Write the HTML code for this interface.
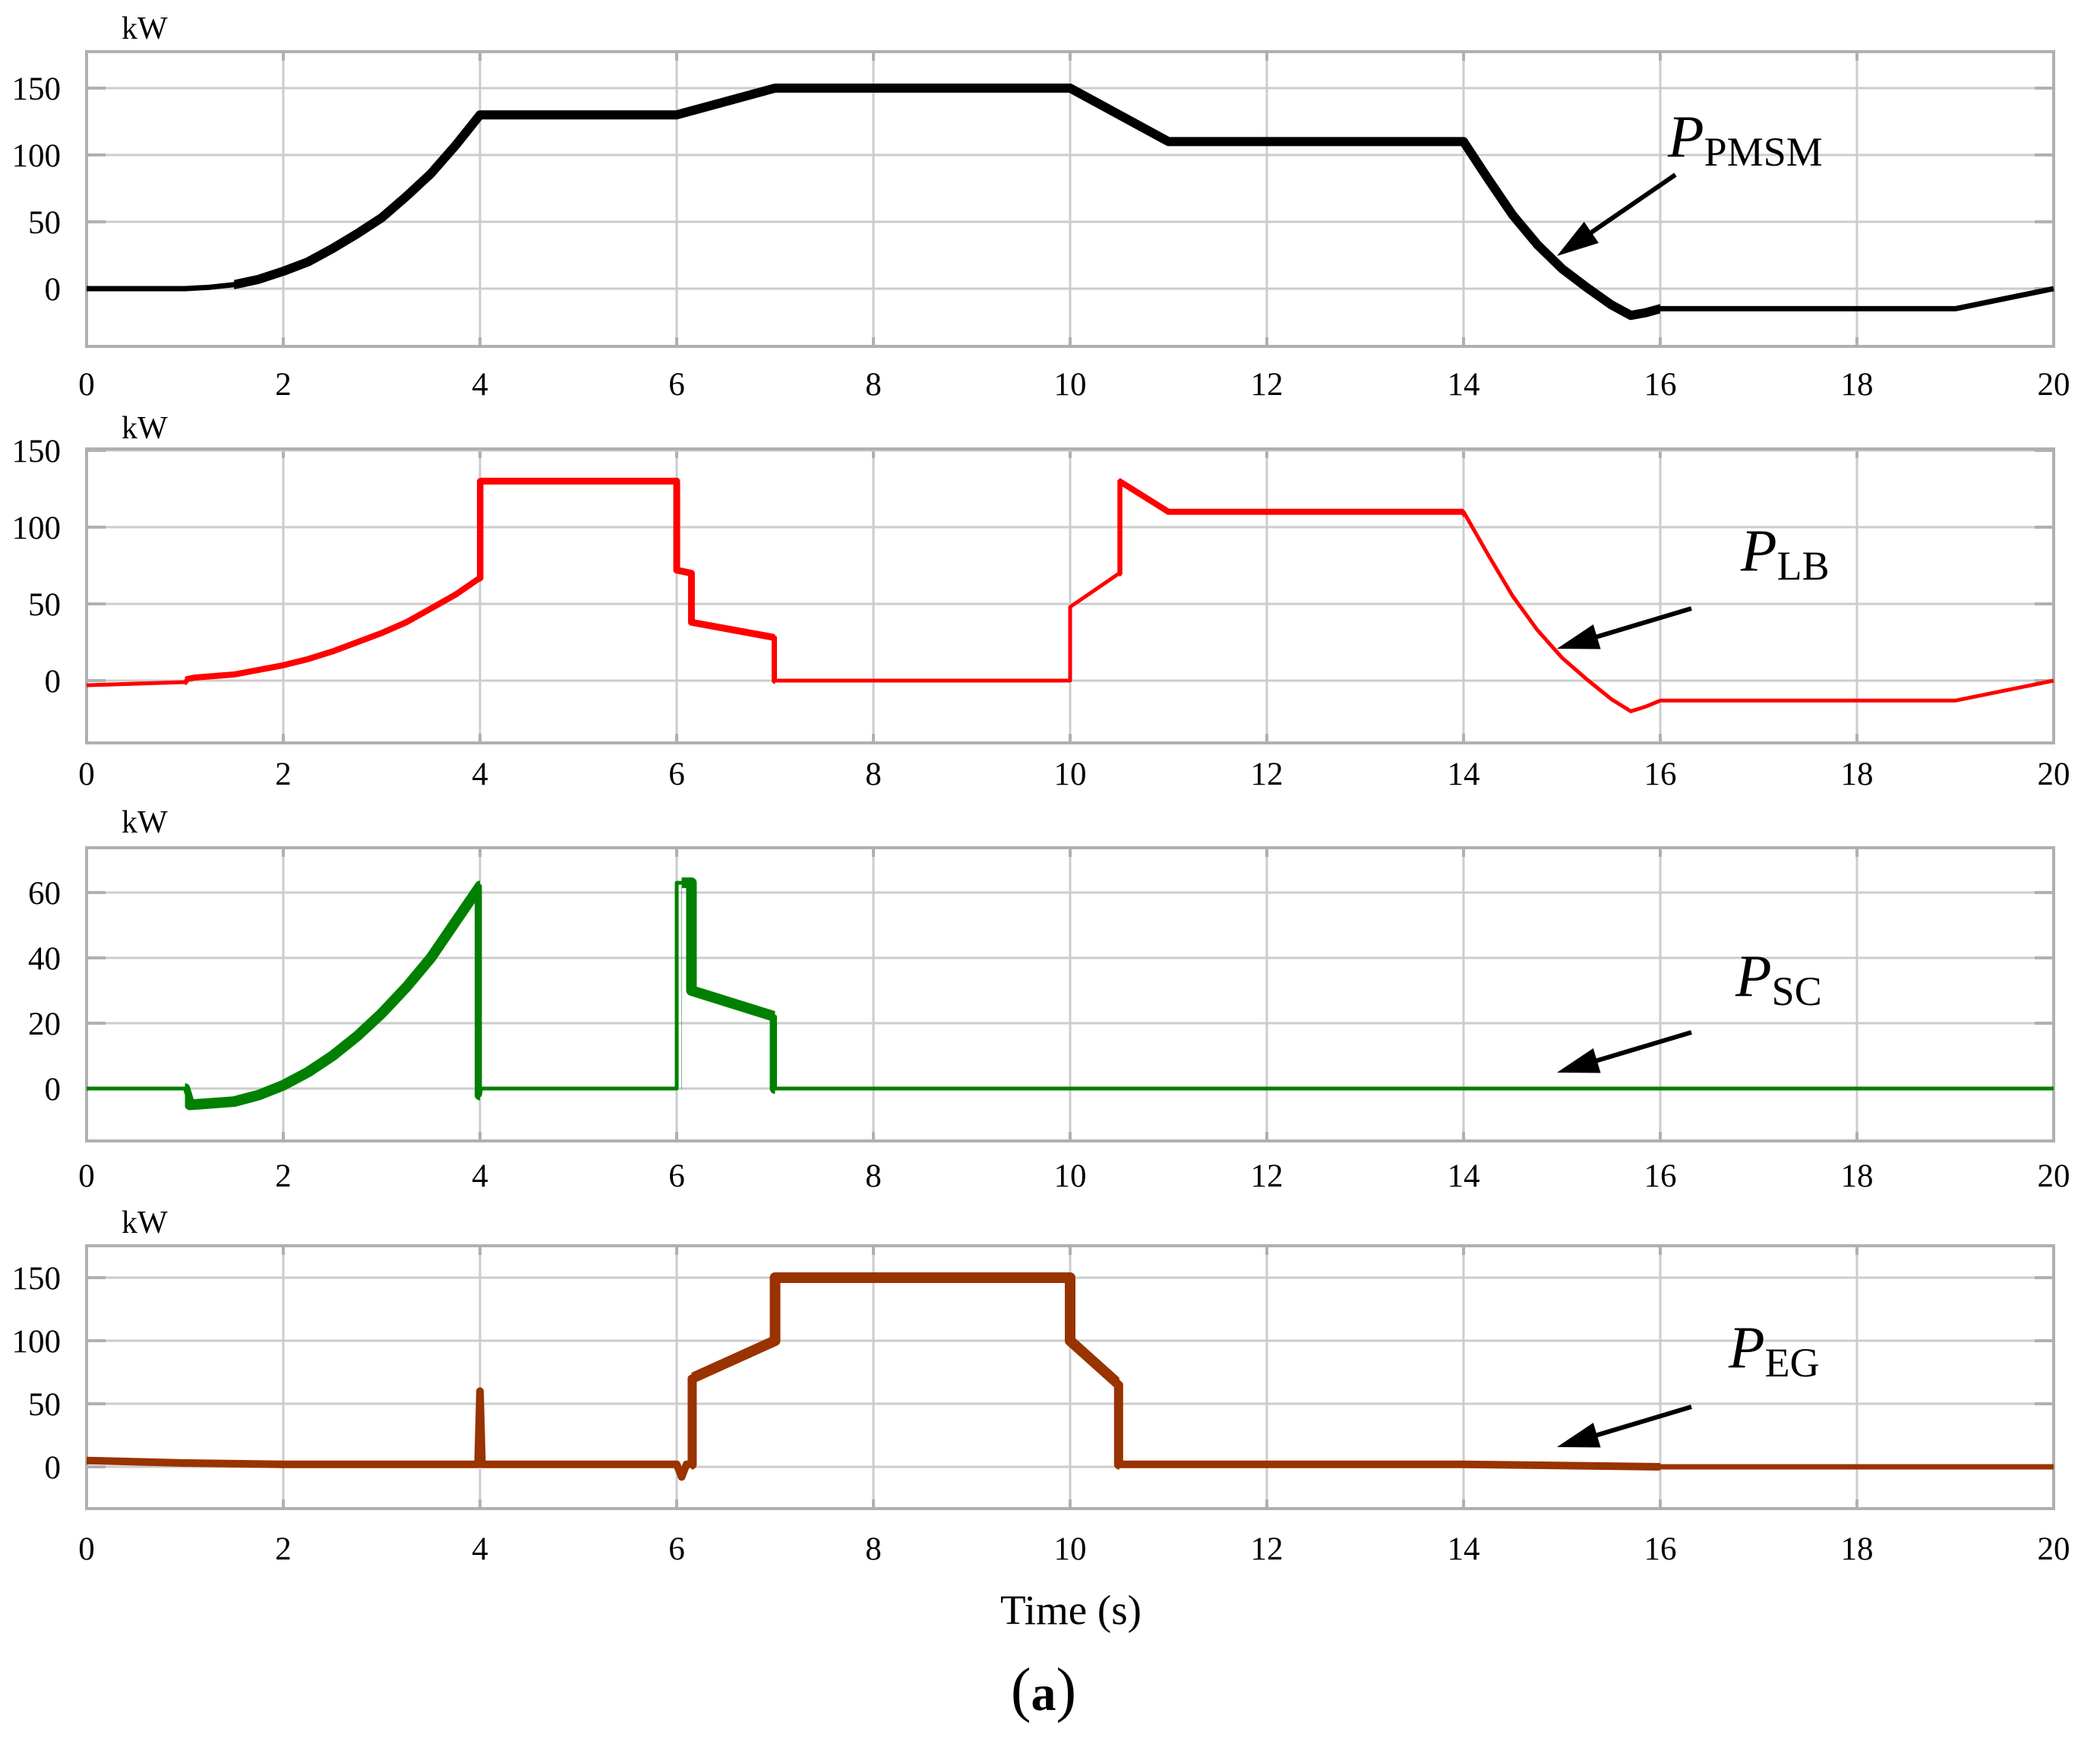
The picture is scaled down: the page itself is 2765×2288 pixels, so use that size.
<!DOCTYPE html>
<html><head><meta charset="utf-8"><style>
html,body{margin:0;padding:0;background:#fff;}
svg{display:block;}
text{font-family:"Liberation Serif",serif;fill:#000;}
</style></head><body>
<svg id="chart" width="2765" height="2288" viewBox="0 0 2765 2288" xmlns="http://www.w3.org/2000/svg"></svg>
<script>
// ---- data ----
const xTicks = [0,2,4,6,8,10,12,14,16,18,20];
const pmsmT = [0,1,1.25,1.5,1.75,2,2.25,2.5,2.75,3,3.25,3.5,3.75,4,6,7,10,11,14,14.25,14.5,14.75,15,15.25,15.5,15.7,15.85,16,19,20];
const pmsmV = [0,0,1,3,7,13,20,30,41,53,69,86,107,130,130,150,150,110,110,82,55,33,15,1,-12,-20,-18,-15,-15,0];
const lbT = [0,1,1.02,1.1,1.5,2,2.25,2.5,2.75,3,3.25,3.5,3.75,4,4,6,6,6.15,6.15,7,7,10,10,10.5,10.5,11,14,14.25,14.5,14.75,15,15.25,15.5,15.7,15.85,16,19,20];
const lbV = [-3,-1,1,2,4,10,14,19,25,31,38,47,56,67,130,130,72,70,38,28,0,0,48,70,130,110,110,82,55,33,15,1,-12,-20,-17,-13,-13,0];
const scT = [0,1,1.05,1.5,1.75,2,2.25,2.5,2.75,3,3.25,3.5,3.75,4,4,4.01,6,6,6.15,6.15,7,7,20];
const scV = [0,0,-5,-4,-2,1,5,10,16,23,31,40,51,62,-2,0,0,63,63,30,22,0,0];
const egT = [0,1,2,3.98,4,4.02,6,6.05,6.1,6.15,6.15,7,7,10,10,10.5,10.5,14,16,20];
const egV = [5,3,2,2,60,2,2,-8,2,2,70,100,150,150,100,65,2,2,0,0];
const yTicks1 = [0,50,100,150];
const yTicks2 = [0,50,100,150];
const yTicks3 = [0,20,40,60];
const yTicks4 = [0,50,100,150];

const NS="http://www.w3.org/2000/svg";
const svg=document.getElementById('chart');
function el(tag,attrs,parent){const e=document.createElementNS(NS,tag);for(const k in attrs)e.setAttribute(k,attrs[k]);(parent||svg).appendChild(e);return e;}
const X0=114,X1=2704;
const xs=t=>X0+(X1-X0)*t/20;

const panels=[
 {name:'pmsm',top:68,bot:456,v0:380,pxPer:88/50,ticks:yTicks1,T:pmsmT,V:pmsmV,color:'#000',w:7,xlab:505,kw:36,
  label:{x:2196,y:206,sub:'PMSM'},arrow:[2206,230,2050,337],bands:[[1.5,16,12]]},
 {name:'lb',top:591,bot:978,v0:896,pxPer:101/50,ticks:yTicks2,T:lbT,V:lbV,color:'#ff0000',w:5,xlab:1018,kw:562,
  label:{x:2292,y:751,sub:'LB'},arrow:[2227,801,2050,854],bands:[[1,4,8],[4,7,9],[10.5,14,8]]},
 {name:'sc',top:1116,bot:1502,v0:1433,pxPer:86/20,ticks:yTicks3,T:scT,V:scV,color:'#008000',w:5,xlab:1547,kw:1081,
  label:{x:2285,y:1311,sub:'SC'},arrow:[2227,1359,2050,1412],bands:[[1,4,14],[6.05,7,14]]},
 {name:'eg',top:1640,bot:1986,v0:1931,pxPer:83/50,ticks:yTicks4,T:egT,V:egV,color:'#993300',w:7,xlab:2038,kw:1608,
  label:{x:2276,y:1800,sub:'EG'},arrow:[2227,1852,2050,1905],bands:[[0,16,10],[6.15,10.5,14]]}
];

panels.forEach(p=>{
 const g=el('g',{});
 
 
 const ys=v=>p.v0-v*p.pxPer;
 xTicks.forEach(t=>{
  const l=el('line',{x1:xs(t),x2:xs(t),y1:p.top,y2:p.bot,stroke:'#cccccc','stroke-width':3},g);
  
  
  el('line',{x1:xs(t),x2:xs(t),y1:p.top,y2:p.top+12,stroke:'#b0b0b0','stroke-width':4},g);
  el('line',{x1:xs(t),x2:xs(t),y1:p.bot-12,y2:p.bot,stroke:'#b0b0b0','stroke-width':4},g);
  const tx=el('text',{x:xs(t),y:p.xlab+15,'font-size':43,'text-anchor':'middle'},g);
  tx.textContent=t;
  
  
 });
 p.ticks.forEach(v=>{
  const y=ys(v);
  const l=el('line',{x1:X0,x2:X1,y1:y,y2:y,stroke:'#cccccc','stroke-width':3},g);
  
  
  el('line',{x1:X0,x2:X0+25,y1:y,y2:y,stroke:'#b0b0b0','stroke-width':4},g);
  el('line',{x1:X1-25,x2:X1,y1:y,y2:y,stroke:'#b0b0b0','stroke-width':4},g);
  const tx=el('text',{x:80,y:y+15,'font-size':43,'text-anchor':'end'},g);
  tx.textContent=v;
  
  
 });
 const fr=el('rect',{x:X0,y:p.top,width:X1-X0,height:p.bot-p.top,fill:'none',stroke:'#b0b0b0','stroke-width':4},g);
 
 
 const kw=el('text',{x:160,y:p.kw+15,'font-size':42},g);
 kw.textContent='kW';
 
 
 const pts=p.T.map((t,i)=>xs(t).toFixed(1)+','+ys(p.V[i]).toFixed(1)).join(' ');
 p.bands.forEach((b,bi)=>{
  const cid='clip-'+p.name+bi;
  const cp=el('clipPath',{id:cid},g);
  el('rect',{x:xs(b[0]),y:0,width:xs(b[1])-xs(b[0]),height:2288},cp);
  const bl=el('polyline',{points:pts,fill:'none',stroke:p.color,'stroke-width':b[2],'stroke-linejoin':'round','clip-path':'url(#'+cid+')'},g);
  
  
 });
 const pl=el('polyline',{points:pts,fill:'none',stroke:p.color,'stroke-width':p.w,'stroke-linejoin':'round'},g);
 
 
 const lt=el('text',{x:p.label.x,y:p.label.y,'font-size':78,'font-style':'italic'},g);
 
 
 lt.appendChild(document.createTextNode('P'));
 const ts=el('tspan',{'font-size':54,'font-style':'normal',dy:12},lt);
 ts.textContent=p.label.sub;
 const a=p.arrow;
 const ar=el('line',{x1:a[0],y1:a[1],x2:a[2]+(a[0]-a[2])*0.18,y2:a[3]+(a[1]-a[3])*0.18,stroke:'#000','stroke-width':6},g);
 
 
 const ang=Math.atan2(a[3]-a[1],a[2]-a[0]);
 const L=55,W=17;
 const bx=a[2]-L*Math.cos(ang),by=a[3]-L*Math.sin(ang);
 const px=-Math.sin(ang)*W,py=Math.cos(ang)*W;
 el('polygon',{points:`${a[2]},${a[3]} ${bx+px},${by+py} ${bx-px},${by-py}`,fill:'#000'},g);
});
</script>
<div style="position:absolute;left:0;top:0;width:2765px;height:2288px;pointer-events:none;">
<div style="position:absolute;left:1210px;top:2088px;width:400px;text-align:center;font:55px 'Liberation Serif',serif;line-height:64px;">Time (s)</div>
<div style="position:absolute;left:1224px;top:2185px;width:300px;text-align:center;font:66px 'Liberation Serif',serif;line-height:80px;"><span style="font-size:80px">(</span><b>a</b><span style="font-size:80px">)</span></div>
</div>
</body></html>
